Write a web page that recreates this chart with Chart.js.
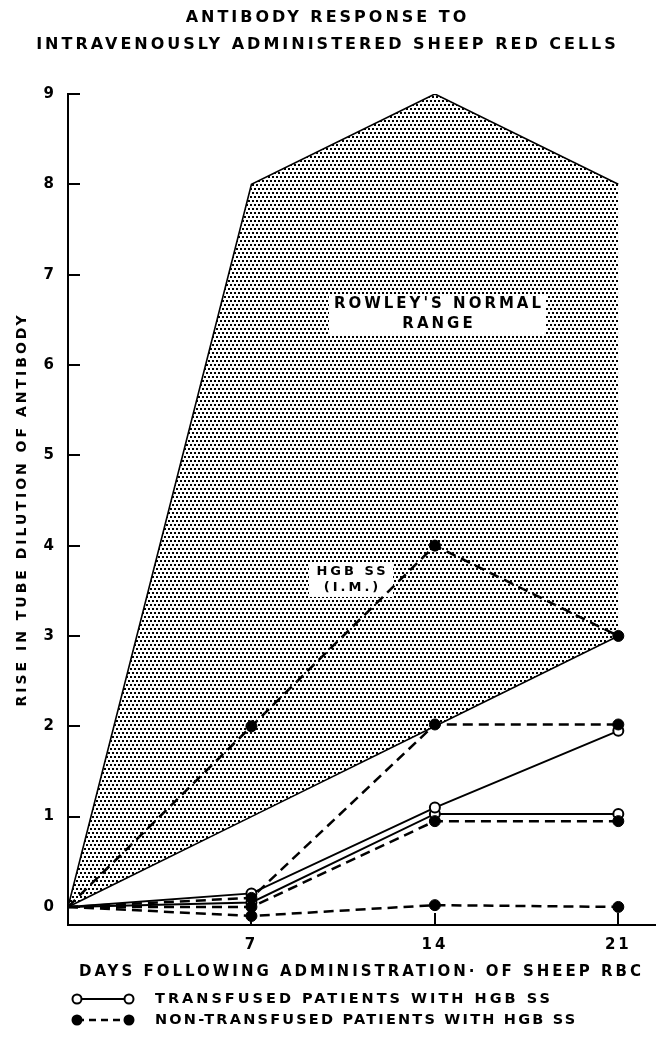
<!DOCTYPE html>
<html>
<head>
<meta charset="utf-8">
<script src="https://cdn.jsdelivr.net/npm/chart.js@4.4.0/dist/chart.umd.min.js"></script>
<style>
  body { margin: 0; background: #fff; }
  #wrap { width: 666px; height: 1040px; }
</style>
</head>
<body>
<div id="wrap"><canvas id="antibodyChart"></canvas></div>
<script>
var FONT = 'DejaVu Sans';

// days after the injection, and the axis ticks
var days = [0, 7, 14, 21];
var xTickDays = [7, 14, 21];
var yTickValues = [0, 1, 2, 3, 4, 5, 6, 7, 8, 9];

// Rowley's normal range (upper and lower edge)
var rowleyUpper = [0, 8, 9, 8];
var rowleyLower = [0, 1, 2, 3];

// HGB SS given I.M.
var hgbIM = [0, 2, 4, 3];

// transfused patients (open circles, solid)
var transfused1 = [0, 0.15, 1.1, 1.95];
var transfused2 = [0, 0.05, 1.03, 1.03];

// non-transfused patients (filled dots, dashed)
var nonTransfused1 = [0, 0.1, 2.02, 2.02];
var nonTransfused2 = [0, 0, 0.95, 0.95];
var nonTransfused3 = [0, -0.1, 0.02, 0];

function toPoints(values) {
  return days.map(function(d, i) { return {x: d, y: values[i]}; });
}

// dotted screen for the normal range
function makeStipple() {
  var tile = document.createElement('canvas');
  tile.width = 4;
  tile.height = 8;
  var t = tile.getContext('2d');
  t.fillStyle = '#000';
  t.fillRect(0, 0, 2, 2);
  t.fillRect(2, 4, 2, 2);
  return document.createElement('canvas').getContext('2d').createPattern(tile, 'repeat');
}

function solidSet(values) {
  return {
    data: toPoints(values),
    borderColor: '#000',
    borderWidth: 2,
    backgroundColor: '#fff',
    pointBackgroundColor: '#fff',
    pointBorderColor: '#000',
    pointBorderWidth: 2,
    pointRadius: [0, 5, 5, 5],
    tension: 0,
    fill: false
  };
}

function dashedSet(values) {
  return {
    data: toPoints(values),
    borderColor: '#000',
    borderWidth: 2.5,
    borderDash: [10, 6],
    backgroundColor: '#000',
    pointBackgroundColor: '#000',
    pointBorderColor: '#000',
    pointBorderWidth: 1,
    pointRadius: [0, 5.5, 5.5, 5.5],
    tension: 0,
    fill: false
  };
}

function drawNote(ctx, cx, cy, w, h, lines, size, gap) {
  ctx.save();
  ctx.fillStyle = '#fff';
  ctx.fillRect(cx - w / 2, cy - h / 2, w, h);
  ctx.fillStyle = '#000';
  ctx.font = 'bold ' + size + 'px "' + FONT + '"';
  ctx.letterSpacing = '3px';
  ctx.textAlign = 'center';
  ctx.textBaseline = 'middle';
  lines.forEach(function(txt, i) {
    ctx.fillText(txt, cx + 1.5, cy + (i - (lines.length - 1) / 2) * gap);
  });
  ctx.restore();
}

var spacingPlugin = {
  id: 'spacing',
  beforeDraw: function(chart) {
    chart.ctx.letterSpacing = '3px';
  }
};

var notesPlugin = {
  id: 'notes',
  beforeDatasetsDraw: function(chart) {
    var x = chart.scales.x, y = chart.scales.y;
    drawNote(chart.ctx, x.getPixelForValue(14.1), y.getPixelForValue(6.56), 217, 40,
      ["ROWLEY'S NORMAL", 'RANGE'], 15, 20);
    drawNote(chart.ctx, x.getPixelForValue(10.8), y.getPixelForValue(3.62), 84, 34,
      ['HGB SS', '(I.M.)'], 13, 16);
  }
};

var legendPlugin = {
  id: 'paperLegend',
  afterDraw: function(chart) {
    var ctx = chart.ctx;
    var rows = [
      {y: 999, text: 'TRANSFUSED PATIENTS WITH HGB SS', open: true, spacing: '3px'},
      {y: 1020, text: 'NON-TRANSFUSED PATIENTS WITH HGB SS', open: false, spacing: '2.2px'}
    ];
    ctx.save();
    rows.forEach(function(r) {
      ctx.strokeStyle = '#000';
      ctx.lineWidth = r.open ? 2 : 2.5;
      ctx.setLineDash(r.open ? [] : [7, 5]);
      ctx.beginPath();
      ctx.moveTo(77, r.y);
      ctx.lineTo(129, r.y);
      ctx.stroke();
      ctx.setLineDash([]);
      [77, 129].forEach(function(px) {
        ctx.beginPath();
        ctx.arc(px, r.y, 4.5, 0, Math.PI * 2);
        ctx.fillStyle = r.open ? '#fff' : '#000';
        ctx.fill();
        ctx.lineWidth = 2;
        ctx.stroke();
      });
      ctx.fillStyle = '#000';
      ctx.font = 'bold 14.5px "' + FONT + '"';
      ctx.letterSpacing = r.spacing;
      ctx.textAlign = 'left';
      ctx.textBaseline = 'middle';
      ctx.fillText(r.text, 155, r.y);
    });
    ctx.restore();
  }
};

var stipple = makeStipple();

var datasets = [
  {
    data: toPoints(rowleyUpper),
    borderColor: '#000',
    borderWidth: 1.6,
    backgroundColor: stipple,
    pointRadius: 0,
    tension: 0,
    fill: '+1',
    order: 2
  },
  {
    data: toPoints(rowleyLower),
    borderColor: '#000',
    borderWidth: 1.6,
    pointRadius: 0,
    tension: 0,
    fill: false,
    order: 2
  },
  dashedSet(hgbIM),
  dashedSet(nonTransfused1),
  dashedSet(nonTransfused2),
  dashedSet(nonTransfused3),
  solidSet(transfused1),
  solidSet(transfused2)
];

var chart = new Chart(document.getElementById('antibodyChart'), {
  type: 'line',
  data: { datasets: datasets },
  options: {
    animation: false,
    responsive: true,
    maintainAspectRatio: false,
    events: [],
    layout: { padding: { left: 0, right: 11, top: 0, bottom: 50 } },
    plugins: {
      legend: { display: false },
      tooltip: { enabled: false },
      filler: { drawTime: 'beforeDatasetsDraw' },
      title: {
        display: true,
        text: ['ANTIBODY RESPONSE TO', 'INTRAVENOUSLY ADMINISTERED SHEEP RED CELLS'],
        color: '#000',
        font: { family: FONT, size: 16, weight: 'bold', lineHeight: 1.6875 },
        padding: { top: 4.5, bottom: 35.5 }
      }
    },
    scales: {
      x: {
        type: 'linear',
        min: 0,
        max: 22.4,
        afterBuildTicks: function(s) { s.ticks = xTickDays.map(function(v) { return {value: v}; }); },
        afterFit: function(s) { s.height = 65; },
        grid: { drawOnChartArea: false, tickLength: -12, color: '#000', lineWidth: 2 },
        border: { color: '#000', width: 2 },
        ticks: {
          color: '#000',
          padding: 23,
          autoSkip: false,
          maxRotation: 0,
          font: { family: FONT, size: 15, weight: 'bold' }
        },
        title: {
          display: true,
          text: 'DAYS FOLLOWING ADMINISTRATION\u00b7 OF SHEEP RBC',
          color: '#000',
          font: { family: FONT, size: 15, weight: 'bold', lineHeight: 1.2 },
          padding: { top: 0, bottom: 9 }
        }
      },
      y: {
        min: -0.2,
        max: 9,
        afterBuildTicks: function(s) { s.ticks = yTickValues.map(function(v) { return {value: v}; }); },
        afterFit: function(s) { s.width = 68; },
        grid: { drawOnChartArea: false, tickLength: -12, color: '#000', lineWidth: 2 },
        border: { color: '#000', width: 2 },
        ticks: {
          color: '#000',
          padding: 23,
          font: { family: FONT, size: 15, weight: 'bold' }
        },
        title: {
          display: true,
          text: 'RISE IN TUBE DILUTION OF ANTIBODY',
          color: '#000',
          font: { family: FONT, size: 14, weight: 'bold', lineHeight: 1.2 },
          padding: { top: 14, bottom: 0 }
        }
      }
    }
  },
  plugins: [spacingPlugin, notesPlugin, legendPlugin]
});
</script>
</body>
</html>
